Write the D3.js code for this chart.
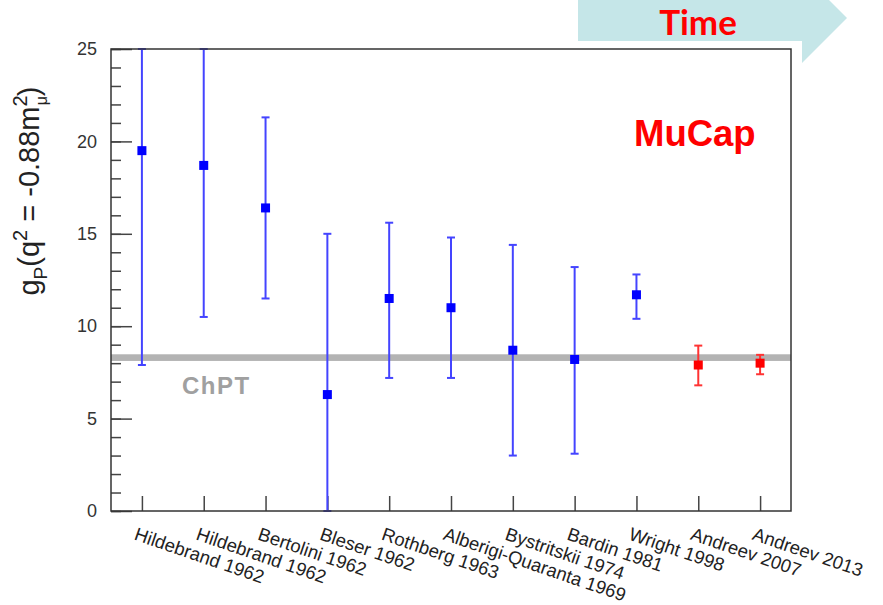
<!DOCTYPE html>
<html>
<head>
<meta charset="utf-8">
<script src="https://cdn.jsdelivr.net/npm/d3@7"></script>
<style>
body { margin: 0; background: #fff; }
text { font-family: "Liberation Sans", Arial, sans-serif; }
</style>
</head>
<body>
<div id="chart"></div>
<script>
// measurements, in the order they were published
var labels = ["Hildebrand 1962", "Hildebrand 1962", "Bertolini 1962", "Bleser 1962", "Rothberg 1963",
              "Alberigi-Quaranta 1969", "Bystritskii 1974", "Bardin 1981", "Wright 1998",
              "Andreev 2007", "Andreev 2013"];
var gp    = [19.5, 18.7, 16.4, 6.3, 11.5, 11.0, 8.7, 8.2, 11.7, 7.9, 8.0];
var lower = [7.9, 10.5, 11.5, -2.4, 7.2, 7.2, 3.0, 3.1, 10.4, 6.8, 7.4];
var upper = [31.1, 26.9, 21.3, 15.0, 15.6, 14.8, 14.4, 13.2, 12.8, 8.95, 8.45];
var mucap = [false, false, false, false, false, false, false, false, false, true, true];
var chpt = 8.3, chptErr = 0.18;
var yMajor = [0, 5, 10, 15, 20, 25];
var yMinor = d3.range(0, 26, 1);

var W = 883, H = 605;
var margin = {top: 49, right: 92, bottom: 94, left: 111};
var width = W - margin.left - margin.right;
var height = H - margin.top - margin.bottom;

var root = d3.select("#chart").append("svg")
    .attr("width", W)
    .attr("height", H);

// "Time" arrow at the top
root.append("polygon")
    .attr("points", "578,-5 802,-5 802,-27 847,18 802,63 802,41 578,41")
    .attr("fill", "#c5e6e8");
root.append("text")
    .attr("x", 698).attr("y", 35)
    .attr("text-anchor", "middle")
    .style("font-family", "Lato, 'Open Sans', sans-serif")
    .style("font-weight", "bold")
    .style("font-size", "35px")
    .attr("fill", "#ff0000")
    .text("Time");

var svg = root.append("g")
    .attr("transform", "translate(" + margin.left + "," + margin.top + ")");

var x = d3.scalePoint()
    .domain(d3.range(labels.length))
    .range([0, width])
    .padding(0.5);

var y = d3.scaleLinear()
    .domain([0, 25])
    .range([height, 0])
    .clamp(true);

// ChPT band
svg.append("rect")
    .attr("x", 0)
    .attr("width", width)
    .attr("y", y(chpt + chptErr))
    .attr("height", y(chpt - chptErr) - y(chpt + chptErr))
    .attr("fill", "#b3b3b3");

svg.append("text")
    .attr("x", 71).attr("y", 345)
    .style("font-weight", "bold")
    .style("font-size", "24px")
    .style("letter-spacing", "1.5px")
    .attr("fill", "#a0a0a0")
    .text("ChPT");

svg.append("text")
    .attr("x", 523).attr("y", 97)
    .style("font-weight", "bold")
    .style("font-size", "36.5px")
    .attr("fill", "#ff0000")
    .text("MuCap");

// y axis: minor then major ticks, pointing into the frame
svg.append("g")
    .call(d3.axisLeft(y).tickValues(yMinor).tickSize(-10).tickFormat(""))
    .call(function(g) { g.select(".domain").remove(); })
    .selectAll("line").attr("stroke", "#444").attr("stroke-width", 1.5);

var yAx = svg.append("g")
    .call(d3.axisLeft(y).tickValues(yMajor).tickSize(-21).tickPadding(14))
    .call(function(g) { g.select(".domain").remove(); });
yAx.selectAll("line").attr("stroke", "#444").attr("stroke-width", 1.5);
yAx.selectAll("text")
    .style("font-size", "18px")
    .attr("fill", "#333");

// x axis ticks and slanted labels
var xAx = svg.append("g")
    .attr("transform", "translate(0," + height + ")")
    .call(d3.axisBottom(x).tickSize(-15).tickFormat(function(i) { return labels[i]; }))
    .call(function(g) { g.select(".domain").remove(); });
xAx.selectAll("line").attr("stroke", "#444").attr("stroke-width", 1.5);
xAx.selectAll("text")
    .attr("y", 0).attr("dy", 0)
    .attr("text-anchor", "start")
    .attr("transform", "translate(-5,16) rotate(19) translate(0,13)")
    .style("font-size", "18.5px")
    .attr("fill", "#222");

// error bars
var bars = svg.append("g")
    .selectAll("g")
    .data(gp)
    .enter()
    .append("g")
    .attr("stroke", function(d, i) { return mucap[i] ? "#ff3333" : "#4444ff"; })
    .attr("stroke-width", 2);

bars.append("line")
    .attr("x1", function(d, i) { return x(i); })
    .attr("x2", function(d, i) { return x(i); })
    .attr("y1", function(d, i) { return y(lower[i]); })
    .attr("y2", function(d, i) { return y(upper[i]); });

bars.append("line")
    .attr("x1", function(d, i) { return x(i) - 4; })
    .attr("x2", function(d, i) { return x(i) + 4; })
    .attr("y1", function(d, i) { return y(upper[i]); })
    .attr("y2", function(d, i) { return y(upper[i]); });

bars.append("line")
    .attr("x1", function(d, i) { return x(i) - 4; })
    .attr("x2", function(d, i) { return x(i) + 4; })
    .attr("y1", function(d, i) { return y(lower[i]); })
    .attr("y2", function(d, i) { return y(lower[i]); });

// markers
svg.append("g")
    .selectAll("rect")
    .data(gp)
    .enter()
    .append("rect")
    .attr("x", function(d, i) { return x(i) - 4.5; })
    .attr("y", function(d) { return y(d) - 4.5; })
    .attr("width", 9)
    .attr("height", 9)
    .attr("fill", function(d, i) { return mucap[i] ? "#ff0000" : "#0000ff"; });

// frame
svg.append("rect")
    .attr("width", width)
    .attr("height", height)
    .attr("fill", "none")
    .attr("stroke", "#333")
    .attr("stroke-width", 1.5);

// y axis title
var yt = root.append("text")
    .attr("transform", "translate(39,191) rotate(-90)")
    .attr("text-anchor", "middle")
    .style("font-size", "29px")
    .attr("fill", "#222");
yt.append("tspan").text("g");
yt.append("tspan").attr("dy", 8).style("font-size", "19px").text("P");
yt.append("tspan").attr("dy", -8).text("(q");
yt.append("tspan").attr("dy", -12).style("font-size", "20px").text("2");
yt.append("tspan").attr("dy", 12).text(" = -0.88m");
yt.append("tspan").attr("dy", -12).style("font-size", "20px").text("2");
yt.append("tspan").attr("dx", -10).attr("dy", 20).style("font-size", "16px").text("μ");
yt.append("tspan").attr("dy", -8).text(")");
</script>
</body>
</html>
